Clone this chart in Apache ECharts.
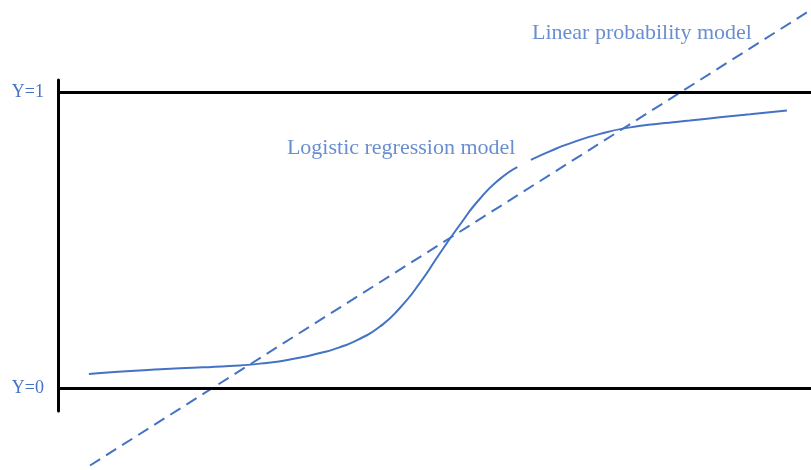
<!DOCTYPE html>
<html>
<head>
<meta charset="utf-8">
<script src="https://cdn.jsdelivr.net/npm/echarts@6/dist/echarts.min.js"></script>
<style>html,body{margin:0;padding:0;background:#fff;}#c{width:811px;height:470px;}</style>
</head>
<body>
<div id="c"></div>
<script>
// Logistic regression curve (x in arbitrary units 0..10, y in probability units)
const logisticX = [0.41, 0.96, 1.62, 2.28, 2.68, 3.08, 3.48, 3.75, 4.01, 4.28, 4.54, 4.81, 5.07, 5.34, 5.60, 5.87, 6.10, null, 6.28, 6.53, 6.80, 7.20, 7.60, 8.00, 8.39, 8.79, 9.19, 9.68];
const logisticY = [0.049, 0.059, 0.068, 0.076, 0.084, 0.098, 0.120, 0.140, 0.168, 0.210, 0.272, 0.358, 0.456, 0.554, 0.640, 0.708, 0.748, null, 0.772, 0.801, 0.828, 0.860, 0.882, 0.895, 0.905, 0.916, 0.926, 0.939];
// Linear probability model (straight line endpoints)
const linearX = [0.425, 9.95];
const linearY = [-0.26, 1.271];
// Reference levels
const levelValues = [0, 1];
const levelLabels = ['Y=0', 'Y=1'];
// Annotation labels
const annotationTexts = ['Logistic regression model', 'Linear probability model'];
const annotationX = [3.04, 6.295];
const annotationY = [0.811, 1.199];

const BLUE = '#4472C4';
const FONT = '"Liberation Serif", "Times New Roman", serif';

const logisticData = logisticX.map((x, i) => (x === null ? [null, null] : [x, logisticY[i]]));
const linearData = linearX.map((x, i) => [x, linearY[i]]);
const annotationData = annotationTexts.map((t, i) => ({ name: t, value: [annotationX[i], annotationY[i]] }));

const chart = echarts.init(document.getElementById('c'), null, { renderer: 'canvas' });
chart.setOption({
  animation: false,
  backgroundColor: '#ffffff',
  grid: { left: 58, right: 0, top: 80, bottom: 59, containLabel: false },
  xAxis: { type: 'value', min: 0, max: 10, show: false },
  yAxis: {
    type: 'value', min: -0.076, max: 1.042,
    axisLine: { show: true, onZero: false, lineStyle: { color: '#000', width: 3 } },
    axisTick: { show: false }, axisLabel: { show: false }, splitLine: { show: false }
  },
  series: [
    {
      type: 'line', name: 'levels', data: [], silent: true,
      markLine: {
        silent: true, symbol: ['none', 'none'],
        lineStyle: { color: '#000', width: 3, type: 'solid' },
        label: {
          show: true, position: 'start', distance: 14,
          color: BLUE, fontFamily: FONT, fontSize: 18,
          formatter: p => levelLabels[levelValues.indexOf(p.value)]
        },
        data: levelValues.map(v => ({ yAxis: v }))
      }
    },
    {
      type: 'line', name: 'Logistic', data: logisticData, smooth: 0.6,
      showSymbol: false, connectNulls: false, clip: false,
      lineStyle: { color: BLUE, width: 2 }
    },
    {
      type: 'line', name: 'Linear', data: linearData, showSymbol: false, clip: false,
      lineStyle: { color: BLUE, width: 2, type: [12, 7] }
    },
    {
      type: 'scatter', name: 'annotations', data: annotationData, symbolSize: 0, clip: false, silent: true,
      label: { show: true, position: 'right', distance: 0, color: BLUE, fontFamily: FONT, fontSize: 22, formatter: p => p.name }
    }
  ]
});
</script>
</body>
</html>
